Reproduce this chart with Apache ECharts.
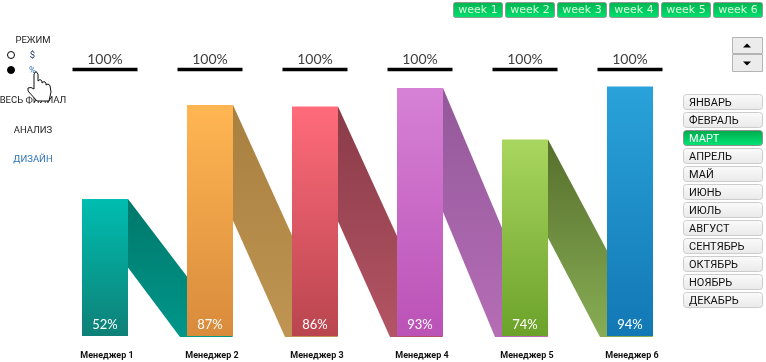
<!DOCTYPE html>
<html>
<head>
<meta charset="utf-8">
<script src="https://cdn.jsdelivr.net/npm/echarts@6/dist/echarts.min.js"></script>
<style>
html,body{margin:0;padding:0;background:#fff;}
#chart{width:766px;height:362px;}
</style>
</head>
<body>
<div id="chart"></div>
<script>
var managers = ['Менеджер 1','Менеджер 2','Менеджер 3','Менеджер 4','Менеджер 5','Менеджер 6'];
var percentValues = [51.6,87,86.4,93.4,74,94];
var targetValues = [100,100,100,100,100,100];
var barTop = ['#00bdb0','#ffb652','#ff6b7a','#d681d6','#a9d65f','#2aa2da'];
var barBottom = ['#0e8077','#d98b3c','#b9454f','#bb52b6','#6ca22a','#1278b5'];
var ribbonTop = ['#00786a','#a77f3f','#8a3b48','#93589a','#566f2c'];
var ribbonBottom = ['#00968a','#c09553','#b35464','#b56db5','#88ad55'];
var weeks = ['week 1','week 2','week 3','week 4','week 5','week 6'];
var months = ['ЯНВАРЬ','ФЕВРАЛЬ','МАРТ','АПРЕЛЬ','МАЙ','ИЮНЬ','ИЮЛЬ','АВГУСТ','СЕНТЯБРЬ','ОКТЯБРЬ','НОЯБРЬ','ДЕКАБРЬ'];
var activeMonth = 'МАРТ';

var numFont = 'Lato, sans-serif';
var uiFont = 'Roboto, sans-serif';
var barW = 46;

function grad(a, b) {
	return new echarts.graphic.LinearGradient(0, 0, 0, 1, [
		{offset: 0, color: a},
		{offset: 1, color: b}
	]);
}

// кнопки и подписи вокруг графика
var ui = [];
weeks.forEach(function (w, i) {
	ui.push({type: 'rect', shape: {x: 453.5 + i * 52, y: 2.5, width: 49, height: 15, r: 2},
		style: {fill: grad('#00b34f', '#00e070'), stroke: '#8f9a92', lineWidth: 1}});
	ui.push({type: 'text', x: 478 + i * 52, y: 10, style: {text: w, fill: '#d8ffd8',
		font: '11px "DejaVu Sans"', align: 'center', verticalAlign: 'middle'}});
});
months.forEach(function (m, i) {
	var on = m === activeMonth;
	ui.push({type: 'rect', shape: {x: 683.5, y: 94.5 + i * 18, width: 79, height: 15, r: 3},
		style: {fill: on ? grad('#00a84c', '#00e874') : grad('#fbfbfb', '#e9e9e9'), stroke: on ? '#8f8f8f' : '#cccccc', lineWidth: 1}});
	ui.push({type: 'text', x: 689, y: 103 + i * 18, style: {text: m, fill: on ? '#ffffff' : '#111111',
		font: '11px ' + uiFont, align: 'left', verticalAlign: 'middle'}});
});
// счётчик
ui.push({type: 'rect', shape: {x: 732.5, y: 37.5, width: 30, height: 16}, style: {fill: '#ececec', stroke: '#b4b4b4'}});
ui.push({type: 'rect', shape: {x: 732.5, y: 54.5, width: 30, height: 17}, style: {fill: '#ececec', stroke: '#b4b4b4'}});
ui.push({type: 'polygon', shape: {points: [[743,47.5],[751,47.5],[747,43.5]]}, style: {fill: '#000'}});
ui.push({type: 'polygon', shape: {points: [[743,61.5],[751,61.5],[747,65.5]]}, style: {fill: '#000'}});
// левый блок
function leftText(t, x, y, color) {
	ui.push({type: 'text', x: x, y: y, style: {text: t, fill: color, font: '9.5px ' + uiFont, align: 'center', verticalAlign: 'middle'}});
}
leftText('РЕЖИМ', 33, 41, '#222222');
leftText('$', 32.5, 56, '#1f3864');
leftText('%', 32.5, 71, '#2e75b6');
leftText('ВЕСЬ ФИЛИАЛ', 33, 101, '#222222');
leftText('АНАЛИЗ', 33, 131, '#222222');
leftText('ДИЗАЙН', 33, 160, '#2e75b6');
ui.push({type: 'circle', shape: {cx: 11, cy: 55, r: 3.5}, style: {fill: '#fff', stroke: '#000', lineWidth: 1}});
ui.push({type: 'circle', shape: {cx: 11, cy: 70, r: 3.5}, style: {fill: '#000', stroke: '#000', lineWidth: 1}});
// курсор-рука
ui.push({type: 'polygon', z: 20, shape: {points: [[34,89],[34,74],[36,71.5],[38,74],[38,81],[40,79.5],[42,81],[42,83],[44,81.5],[46,83],[46,85],[48,84],[50,85.5],[51,92],[49,101],[37,101],[28,91],[28,88],[31,87.5]]},
	style: {fill: '#fff', stroke: '#111', lineWidth: 1}});

var chart = echarts.init(document.getElementById('chart'));
chart.setOption({
	animation: false,
	grid: {left: 52.5, right: 83.5, top: 70.5, bottom: 26},
	xAxis: {
		type: 'category',
		data: managers,
		axisLine: {show: false},
		axisTick: {show: false},
		axisLabel: {interval: 0, margin: 15, padding: [0, 0, 0, 4], color: '#111', fontWeight: 'bold', fontSize: 9, fontFamily: 'Roboto'}
	},
	yAxis: {type: 'value', min: 0, max: 100, show: false},
	graphic: ui,
	series: [
		{
			// ленты между столбцами, заходят под следующий столбец
			type: 'custom',
			z: 1,
			data: percentValues.slice(0, 5).map(function (v, i) { return [i, v]; }),
			renderItem: function (params, api) {
				var i = api.value(0);
				var v = api.value(1);
				var top = api.coord([i, v]);
				var half = api.coord([i, v / 2]);
				var base = api.coord([i, 0]);
				var next = api.coord([i + 1, 0]);
				var x0 = top[0] + barW / 2;
				var x1 = next[0] + barW / 2;
				var yBase = base[1] + 1;
				return {
					type: 'polygon',
					shape: {points: [[x0, top[1]], [x1, yBase], [(x0 + x1) / 2 - 0.5, yBase], [x0, half[1]]]},
					style: {fill: grad(ribbonTop[i], ribbonBottom[i])}
				};
			}
		},
		{
			type: 'bar',
			z: 2,
			barWidth: barW,
			data: percentValues.map(function (v, i) {
				return {value: v, itemStyle: {color: grad(barTop[i], barBottom[i])}};
			}),
			label: {
				show: true, position: 'insideBottom', distance: 5, color: '#fff', fontSize: 13, fontFamily: numFont,
				formatter: function (p) { return Math.round(p.value) + '%'; }
			}
		},
		{
			type: 'scatter',
			z: 3,
			symbol: 'rect',
			symbolSize: [65, 3.5],
			symbolOffset: [0, -1],
			itemStyle: {color: '#000', opacity: 1},
			data: targetValues,
			label: {show: true, position: 'top', distance: 1, color: '#404040', fontSize: 14, fontFamily: numFont, formatter: '{c}%'}
		}
	]
});
</script>
</body>
</html>
